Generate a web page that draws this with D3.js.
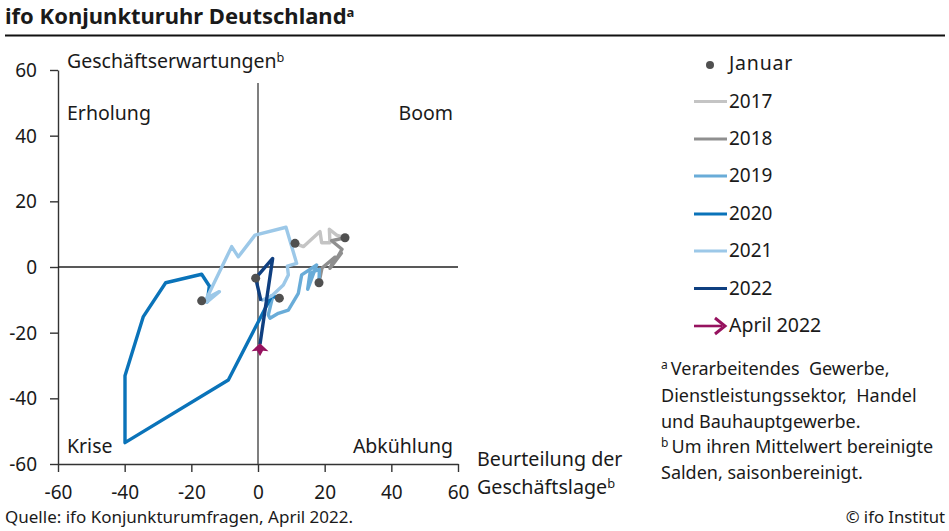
<!DOCTYPE html>
<html>
<head>
<meta charset="utf-8">
<script src="https://cdn.jsdelivr.net/npm/d3@7"></script>
<style>
  html, body { margin: 0; padding: 0; background: #fff; }
  text { font-family: "Noto Sans", sans-serif; fill: #1a1a1a; }
</style>
</head>
<body>
<svg id="chart" width="949" height="531"></svg>
<script>
// [geschaeftslage, geschaeftserwartungen]
const y2017 = [[11.1,7.2],[13.6,6.2],[18.6,10.8],[19.1,7.4],[21.6,7.4],[21.4,11.5],[23.6,9.7],[26.1,8.9]]
const y2018 = [[26.1,8.9],[22.1,8.0],[25.2,5.4],[23.4,2.2],[25.0,4.2],[21.6,-0.4],[23.1,3.0],[19.2,-0.3],[18.3,-4.8]]
const y2019 = [[18.3,-4.8],[18.4,-0.7],[15.6,-1.9],[14.9,-6.8],[17.6,0.6],[13.1,-2.4],[12.1,-8.0],[9.1,-13.1],[6.1,-14.1],[3.6,-15.6],[3.1,-14.6],[4.4,-9.0],[6.4,-9.5]]
const y2020 = [[6.4,-9.5],[4.1,-8.8],[-8.9,-34.4],[-39.9,-53.5],[-39.9,-33.1],[-34.4,-15.1],[-27.7,-4.8],[-16.9,-2.2],[-14.6,-5.8],[-15.2,-10.6],[-16.9,-10.3]]
const y2021 = [[-16.9,-10.3],[-15.2,-10.6],[-11.6,-7.5],[-15.4,-9.5],[-7.9,6.2],[-5.9,3.1],[-0.9,9.7],[8.4,12.1],[11.6,1.1],[8.8,0.3],[9.1,-2.4],[7.6,-5.5],[4.1,-8.8],[0.9,-10.3]]
const y2022 = [[0.9,-10.3],[-0.7,-3.4],[4.4,2.6],[0.6,-23.5]]
const januar = [[11.1,7.2],[26.1,8.9],[18.3,-4.8],[6.4,-9.5],[-16.9,-10.3],[-0.7,-3.4]]
const april2022 = [0.6,-23.5]

const seriesNames = ['2017','2018','2019','2020','2021','2022']
const seriesData = [y2017,y2018,y2019,y2020,y2021,y2022]
const seriesColors = ['#c4c4c4','#8f8f8f','#69acd8','#0a73b9','#9cc8e8','#0f3f80']
const tickValues = [-60,-40,-20,0,20,40,60]

const svg = d3.select('#chart')
const x = d3.scaleLinear().domain([-60,60]).range([58,458])
const y = d3.scaleLinear().domain([-60,60]).range([464,70])

// title
svg.append('text').attr('x',5).attr('y',24)
  .style('font-size','22px').style('font-weight',700)
  .text('ifo Konjunkturuhr Deutschland')
  .append('tspan').attr('dy',-7).style('font-size','13px').text('a')
svg.append('line').attr('x1',5).attr('x2',945).attr('y1',35.5).attr('y2',35.5)
  .attr('stroke','#111').attr('stroke-width',2)

// axes
const xAxis = svg.append('g').attr('transform','translate(0,464)')
  .call(d3.axisBottom(x).tickValues(tickValues).tickSize(8).tickSizeOuter(0))
const yAxis = svg.append('g').attr('transform','translate(58,0)')
  .call(d3.axisLeft(y).tickValues(tickValues).tickSize(8).tickSizeOuter(0))
svg.selectAll('.domain, .tick line').attr('stroke','#333').attr('stroke-width',1.4)
xAxis.selectAll('text').attr('y',22).attr('dy','0.71em')
yAxis.selectAll('text').attr('x',-21).attr('dy','0.35em')
svg.selectAll('.tick text').style('font-size','19px').attr('fill','#1a1a1a')
  .text(d => d)

// cross through the origin
svg.append('line').attr('x1',x(0)).attr('x2',x(0)).attr('y1',83).attr('y2',y(-60))
  .attr('stroke','#555').attr('stroke-width',1.5)
svg.append('line').attr('x1',x(-60)).attr('x2',x(60)).attr('y1',y(0)).attr('y2',y(0))
  .attr('stroke','#222').attr('stroke-width',1.5)

// year paths
const line = d3.line().x(d => x(d[0])).y(d => y(d[1]))
svg.selectAll('.year').data(seriesData).enter().append('path')
  .attr('class','year').attr('d',line).attr('fill','none')
  .attr('stroke',(d,i) => seriesColors[i]).attr('stroke-width',3.4)
  .attr('stroke-linejoin','round')

// january dots
svg.selectAll('.jan').data(januar).enter().append('circle')
  .attr('class','jan').attr('cx',d => x(d[0])).attr('cy',d => y(d[1])).attr('r',4.5)
  .attr('fill','#505050')

// april 2022 arrow head
svg.append('path')
  .attr('transform',`translate(${x(april2022[0])},${y(april2022[1])})`)
  .attr('d','M0,-1 L8.5,7 L3,6.5 L0,12 L-3,6.5 L-8.5,7 Z')
  .attr('fill','#96125f')

// labels in the chart
const labels = [
  ['Erholung',67,120,'start'],['Boom',453,120,'end'],
  ['Krise',67,453,'start'],['Abkühlung',453,453,'end']
]
svg.selectAll('.quad').data(labels).enter().append('text').attr('class','quad')
  .attr('x',d => d[1]).attr('y',d => d[2]).attr('text-anchor',d => d[3])
  .style('font-size','19.5px').text(d => d[0])

function supText(xp, yp, str, sup, size) {
  const t = svg.append('text').attr('x',xp).attr('y',yp).style('font-size',size+'px').text(str)
  t.append('tspan').attr('dy',-6).style('font-size',(size*0.65)+'px').text(sup)
  return t
}
supText(67,68,'Geschäftserwartungen','b',19.5)
svg.append('text').attr('x',477).attr('y',466).style('font-size','19.7px').text('Beurteilung der')
supText(477,494,'Geschäftslage','b',19.7)

// legend
const legendY = [101.5,139,176,214,251,288.5]
svg.append('circle').attr('cx',710).attr('cy',65).attr('r',4).attr('fill','#505050')
svg.append('text').attr('x',729).attr('y',70).style('font-size','19.5px').style('letter-spacing','0.8px').text('Januar')
seriesNames.forEach((name,i) => {
  svg.append('line').attr('x1',694).attr('x2',727).attr('y1',legendY[i]).attr('y2',legendY[i])
    .attr('stroke',seriesColors[i]).attr('stroke-width',3.2)
  svg.append('text').attr('x',729).attr('y',legendY[i]+6).style('font-size','19px').text(name)
})
svg.append('line').attr('x1',694).attr('x2',722).attr('y1',326).attr('y2',326)
  .attr('stroke','#96125f').attr('stroke-width',2.6)
svg.append('path').attr('d','M715,318 L725,326 L715,334')
  .attr('fill','none').attr('stroke','#96125f').attr('stroke-width',3)
svg.append('text').attr('x',729).attr('y',332).style('font-size','19.5px').text('April 2022')

// footnotes
const notes = [
  ['a','Verarbeitendes  Gewerbe,',375],
  ['','Dienstleistungssektor,  Handel',402],
  ['','und Bauhauptgewerbe.',428],
  ['b','Um ihren Mittelwert bereinigte',453],
  ['','Salden, saisonbereinigt.',479]
]
notes.forEach(n => {
  const t = svg.append('text').attr('x',661).attr('y',n[2]).style('font-size','18px').style('white-space','pre')
  if (n[0]) {
    t.append('tspan').attr('dy',-6).style('font-size','12px').text(n[0]+' ')
    t.append('tspan').attr('dy',6).text(n[1])
  } else {
    t.text(n[1])
  }
})

// source
svg.append('text').attr('x',5).attr('y',523).style('font-size','17px').text('Quelle: ifo Konjunkturumfragen, April 2022.')
svg.append('text').attr('x',945).attr('y',523).attr('text-anchor','end').style('font-size','16.7px').text('© ifo Institut')
</script>
</body>
</html>
